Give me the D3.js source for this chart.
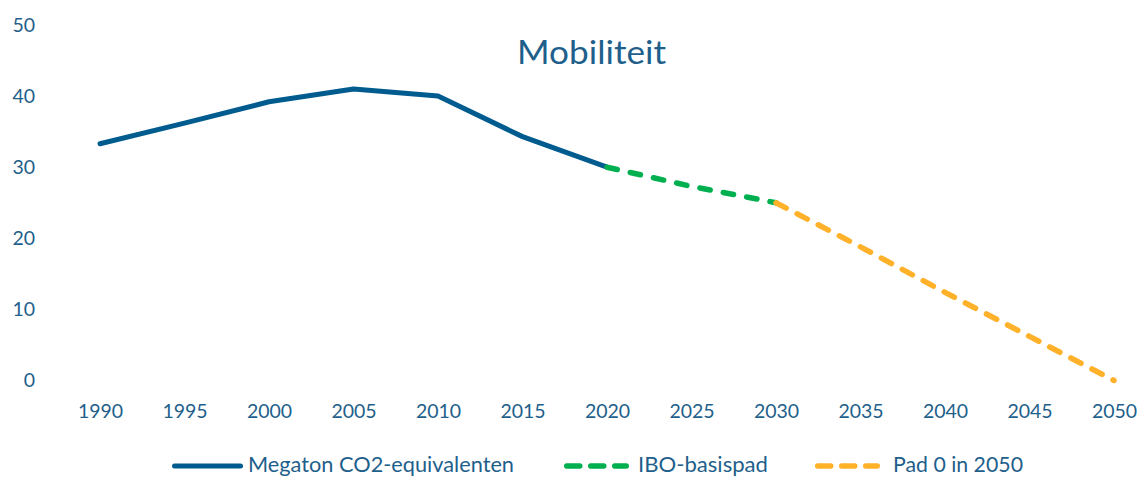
<!DOCTYPE html>
<html><head><meta charset="utf-8">
<script src="https://cdn.jsdelivr.net/npm/d3@7"></script>
<style>html,body{margin:0;padding:0;background:#fff;overflow:hidden}</style>
</head><body>
<svg id="c" width="1144" height="477"></svg>
<script>
const title = "Mobiliteit";
const xTicks = [1990,1995,2000,2005,2010,2015,2020,2025,2030,2035,2040,2045,2050];
const yTicks = [0,10,20,30,40,50];
const histYears = [1990,1995,2000,2005,2010,2015,2020];
const histValues = [33.3,36.2,39.2,41.0,40.0,34.3,30.0];
const iboYears = [2020,2025,2030];
const iboValues = [30.0,27.3,25.0];
const padYears = [2030,2035,2040,2045,2050];
const padValues = [25.0,18.8,12.4,6.2,0];
const seriesNames = ["Megaton CO2-equivalenten","IBO-basispad","Pad 0 in 2050"];
const seriesColors = ["#005b8f","#00b050","#ffb12a"];

const textColor = "#1f5f8b";
const font = "Lato, 'Open Sans', sans-serif";
const svg = d3.select("#c");
const x = d3.scaleLinear().domain([1990,2050]).range([100,1114]);
const y = d3.scaleLinear().domain([0,50]).range([380.5,25]);

// y axis labels
const yAxis = svg.append("g").attr("transform","translate(35,0)")
  .call(d3.axisLeft(y).tickValues(yTicks).tickSize(0).tickPadding(0));
yAxis.select(".domain").remove();
yAxis.selectAll("text").attr("fill",textColor).style("font-family",font).style("font-size","19.5px");

// x axis labels
const xAxis = svg.append("g").attr("transform","translate(0,404)")
  .call(d3.axisBottom(x).tickValues(xTicks).tickFormat(d3.format("d")).tickSize(0).tickPadding(0));
xAxis.select(".domain").remove();
xAxis.selectAll("text").attr("fill",textColor).style("font-family",font).style("font-size","19.5px");

// title
svg.append("text").attr("x",591.5).attr("y",64).attr("text-anchor","middle")
  .attr("fill",textColor).style("font-family",font).style("font-size","32px")
  .attr("textLength",149).attr("lengthAdjust","spacingAndGlyphs").text(title);

const line = d3.line().x(d=>x(d[0])).y(d=>y(d[1]));
const series = [
  {pts: d3.zip(histYears,histValues), color: seriesColors[0], dash: null},
  {pts: d3.zip(iboYears,iboValues), color: seriesColors[1], dash: "10.5,13.3"},
  {pts: d3.zip(padYears,padValues), color: seriesColors[2], dash: "11.5,12.3"}
];
series.forEach(s=>{
  svg.append("path").attr("d",line(s.pts)).attr("fill","none")
    .attr("stroke",s.color).attr("stroke-width",s.dash?5.5:5)
    .attr("stroke-linecap","round").attr("stroke-linejoin","round")
    .attr("stroke-dasharray",s.dash);
});

// legend
const legend = [
  {x1:174.5,x2:240.5,tx:248,tw:266,dash:null},
  {x1:566.75,x2:626.25,tx:638,tw:130,dash:"13,11"},
  {x1:817.75,x2:877.25,tx:893,tw:130,dash:"13,11"}
];
legend.forEach((l,i)=>{
  svg.append("line").attr("x1",l.x1).attr("x2",l.x2).attr("y1",466).attr("y2",466)
    .attr("stroke",seriesColors[i]).attr("stroke-width",i==0?5:5.5)
    .attr("stroke-linecap","round").attr("stroke-dasharray",l.dash);
  svg.append("text").attr("x",l.tx).attr("y",472).attr("fill",textColor)
    .style("font-family",font).style("font-size","21px")
    .attr("textLength",l.tw).attr("lengthAdjust","spacingAndGlyphs").text(seriesNames[i]);
});
</script>
</body></html>
